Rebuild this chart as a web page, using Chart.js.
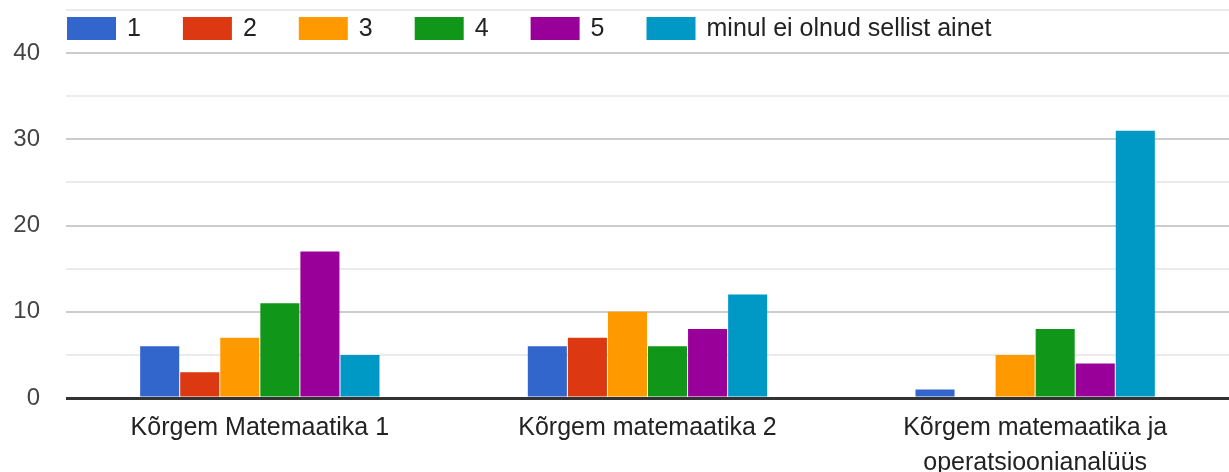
<!DOCTYPE html>
<html>
  <head>
    <meta charset="utf-8" />
    <script src="https://cdn.jsdelivr.net/npm/chart.js"></script>
    <title>Kõrgem matemaatika</title>
    <style>
      body { margin: 0; background: #fff; }
      #wrap { width: 1229px; height: 472px; position: relative; }
    </style>
  </head>
  <body>
    <div id="wrap"><canvas id="grades"></canvas></div>

    <script>
      // aine nimed (x-telg)
      var subjects = [
        "Kõrgem Matemaatika 1",
        "Kõrgem matemaatika 2",
        ["Kõrgem matemaatika ja", "operatsioonianalüüs"],
      ];

      // hinded ja vastuste arv iga aine kohta
      var seriesNames = ["1", "2", "3", "4", "5", "minul ei olnud sellist ainet"];
      var grade1 = [6, 6, 1];
      var grade2 = [3, 7, 0];
      var grade3 = [7, 10, 5];
      var grade4 = [11, 6, 8];
      var grade5 = [17, 8, 4];
      var notTaken = [5, 12, 31];

      var yTicks = [0, 10, 20, 30, 40];

      var colors = ["#3366cc", "#dc3912", "#ff9900", "#109618", "#990099", "#0099c6"];
      var values = [grade1, grade2, grade3, grade4, grade5, notTaken];

      var FONT = "'Liberation Sans', Arial, sans-serif";

      // legend joonistatakse ise, et see jääks graafiku ala peale
      var topLegend = {
        id: "topLegend",
        afterDraw: function (chart) {
          var ctx = chart.ctx;
          ctx.save();
          ctx.font = "25px " + FONT;
          ctx.textBaseline = "middle";
          ctx.textAlign = "left";
          var x = 67;
          chart.data.datasets.forEach(function (ds) {
            ctx.fillStyle = ds.backgroundColor;
            ctx.fillRect(x, 17, 49, 23);
            ctx.fillStyle = "#222";
            ctx.fillText(ds.label, x + 60, 29.5);
            x += 60 + ctx.measureText(ds.label).width + 42;
          });
          ctx.restore();
        },
      };

      var datasets = seriesNames.map(function (name, i) {
        return {
          label: name,
          data: values[i],
          backgroundColor: colors[i],
          borderWidth: 0,
          barPercentage: 0.975,
          categoryPercentage: 0.62,
        };
      });

      // teljed ei tohi graafiku ala ise kokku suruda
      function noPad(scale) {
        scale.paddingTop = 0;
        scale.paddingBottom = 0;
        scale.paddingLeft = 0;
        scale.paddingRight = 0;
      }

      new Chart(document.getElementById("grades"), {
        type: "bar",
        data: { labels: subjects, datasets: datasets },
        plugins: [topLegend],
        options: {
          responsive: true,
          maintainAspectRatio: false,
          animation: false,
          layout: { autoPadding: false, padding: { top: 10, right: 0, left: 0, bottom: 0 } },
          plugins: {
            legend: { display: false },
            title: { display: false },
            tooltip: { enabled: false },
          },
          scales: {
            x: {
              grid: { display: false, drawTicks: false },
              border: { display: false },
              afterFit: function (scale) { scale.height = 74; noPad(scale); },
              ticks: {
                color: "#222",
                padding: 13,
                maxRotation: 0,
                autoSkip: false,
                font: { family: FONT, size: 25, lineHeight: 1.38 },
              },
            },
            y: {
              min: 0,
              max: 45,
              afterFit: function (scale) { scale.width = 66; noPad(scale); },
              border: { display: false },
              grid: {
                drawTicks: false,
                lineWidth: function (c) { return c.tick.value === 0 ? 3 : 2; },
                color: function (c) {
                  var v = c.tick.value;
                  if (v === 0) return "#333333";
                  return v % 10 === 0 ? "#cccccc" : "#ebebeb";
                },
              },
              ticks: {
                stepSize: 5,
                padding: 26,
                color: "#444",
                font: { family: FONT, size: 24 },
                callback: function (v) { return yTicks.indexOf(v) >= 0 ? v : ""; },
              },
            },
          },
        },
      });
    </script>
  </body>
</html>
